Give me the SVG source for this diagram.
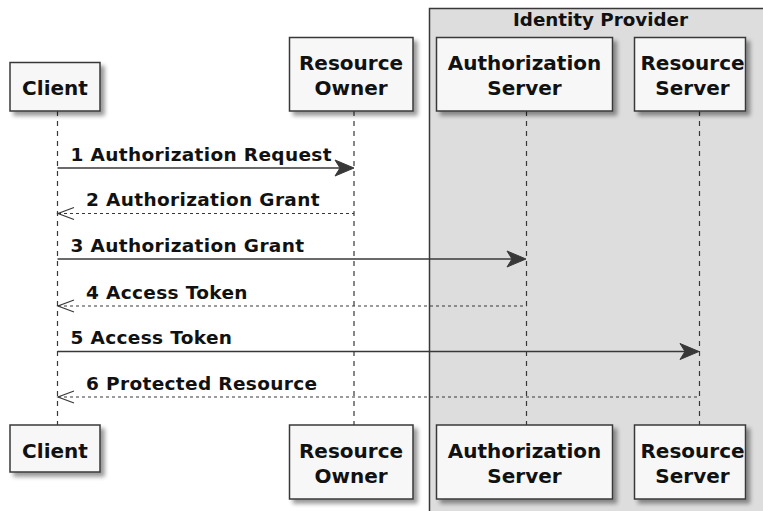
<svg xmlns="http://www.w3.org/2000/svg" width="763" height="511" viewBox="0 0 763 511">
<style>
.part{fill:#F7F7F7;stroke:#383838;stroke-width:1.5;filter:url(#sh)}
.pt{font-family:"DejaVu Sans",Verdana,sans-serif;font-weight:bold;font-size:20px;fill:#111;text-anchor:middle}
.mt{font-family:"DejaVu Sans",Verdana,sans-serif;font-weight:bold;font-size:18.5px;letter-spacing:0.35px;fill:#111}
.life{stroke:#383838;stroke-width:1.2;stroke-dasharray:5,5;fill:none}
.msg{stroke:#383838;stroke-width:1.5;fill:none}
.ret{stroke:#383838;stroke-width:1.2;stroke-dasharray:3,3;fill:none}
.head{fill:#383838;stroke:#383838;stroke-width:1}
.open{fill:none;stroke:#383838;stroke-width:1.2}
</style>
<defs>
<filter id="sh" x="-20%" y="-20%" width="150%" height="150%">
<feGaussianBlur in="SourceAlpha" stdDeviation="2"/>
<feOffset dx="4" dy="4" result="b"/>
<feComponentTransfer><feFuncA type="linear" slope="0.4"/></feComponentTransfer>
<feMerge><feMergeNode/><feMergeNode in="SourceGraphic"/></feMerge>
</filter>
</defs>
<rect width="763" height="511" fill="#FFFFFF"/>
<g id="identity-provider">
<rect x="429.5" y="8.5" width="340" height="510" fill="#DDDDDD" stroke="#383838" stroke-width="1.5"/>
<text x="600.5" y="26" class="mt" style="font-size:18.3px;letter-spacing:0" text-anchor="middle">Identity Provider</text>
</g>
<g id="lifelines">
<line class="life" x1="57.5" y1="111" x2="57.5" y2="425"/>
<line class="life" x1="354" y1="111" x2="354" y2="425"/>
<line class="life" x1="526.5" y1="111" x2="526.5" y2="425"/>
<line class="life" x1="699.5" y1="111" x2="699.5" y2="425"/>
</g>
<g id="client-top">
<rect class="part" x="10" y="62.5" width="90" height="48.5"/>
<text class="pt" x="55" y="95">Client</text>
</g>
<g id="resource-owner-top">
<rect class="part" x="289.5" y="37.5" width="123.5" height="73.5"/>
<text class="pt" x="351" y="69.5">Resource</text>
<text class="pt" x="351" y="95">Owner</text>
</g>
<g id="authorization-server-top">
<rect class="part" x="436.5" y="37.5" width="176" height="73.5"/>
<text class="pt" x="524.5" y="69.5">Authorization</text>
<text class="pt" x="524.5" y="95">Server</text>
</g>
<g id="resource-server-top">
<rect class="part" x="634.5" y="37.5" width="111" height="73.5"/>
<text class="pt" x="692.5" y="69.5">Resource</text>
<text class="pt" x="692.5" y="95">Server</text>
</g>
<g id="client-bottom">
<rect class="part" x="10" y="425" width="90" height="47"/>
<text class="pt" x="55" y="457.5">Client</text>
</g>
<g id="resource-owner-bottom">
<rect class="part" x="289.5" y="425" width="123.5" height="74"/>
<text class="pt" x="351" y="457.5">Resource</text>
<text class="pt" x="351" y="483">Owner</text>
</g>
<g id="authorization-server-bottom">
<rect class="part" x="436.5" y="425" width="176" height="74"/>
<text class="pt" x="524.5" y="457.5">Authorization</text>
<text class="pt" x="524.5" y="483">Server</text>
</g>
<g id="resource-server-bottom">
<rect class="part" x="634.5" y="425" width="111" height="74"/>
<text class="pt" x="692.5" y="457.5">Resource</text>
<text class="pt" x="692.5" y="483">Server</text>
</g>
<g id="connectors">
<line class="msg" x1="57.5" y1="168" x2="350" y2="168"/>
<polygon class="head" points="354,168 335,160 340,168 335,176"/>
<text class="mt" x="70.5" y="160.5">1 Authorization Request</text>
<line class="ret" x1="58" y1="213.5" x2="354" y2="213.5"/>
<polyline class="open" points="74,207.5 58,213.5 74,219.5"/>
<text class="mt" x="86" y="206">2 Authorization Grant</text>
<line class="msg" x1="57.5" y1="259" x2="522" y2="259"/>
<polygon class="head" points="526,259 507,251 512,259 507,267"/>
<text class="mt" x="70.5" y="251.5">3 Authorization Grant</text>
<line class="ret" x1="58" y1="306" x2="526.5" y2="306"/>
<polyline class="open" points="74,300 58,306 74,312"/>
<text class="mt" x="86" y="298.5">4 Access Token</text>
<line class="msg" x1="57.5" y1="351.5" x2="695" y2="351.5"/>
<polygon class="head" points="699,351.5 680,343.5 685,351.5 680,359.5"/>
<text class="mt" x="70.5" y="344">5 Access Token</text>
<line class="ret" x1="58" y1="397" x2="699.5" y2="397"/>
<polyline class="open" points="74,391 58,397 74,403"/>
<text class="mt" x="86" y="390">6 Protected Resource</text>
</g>
</svg>
